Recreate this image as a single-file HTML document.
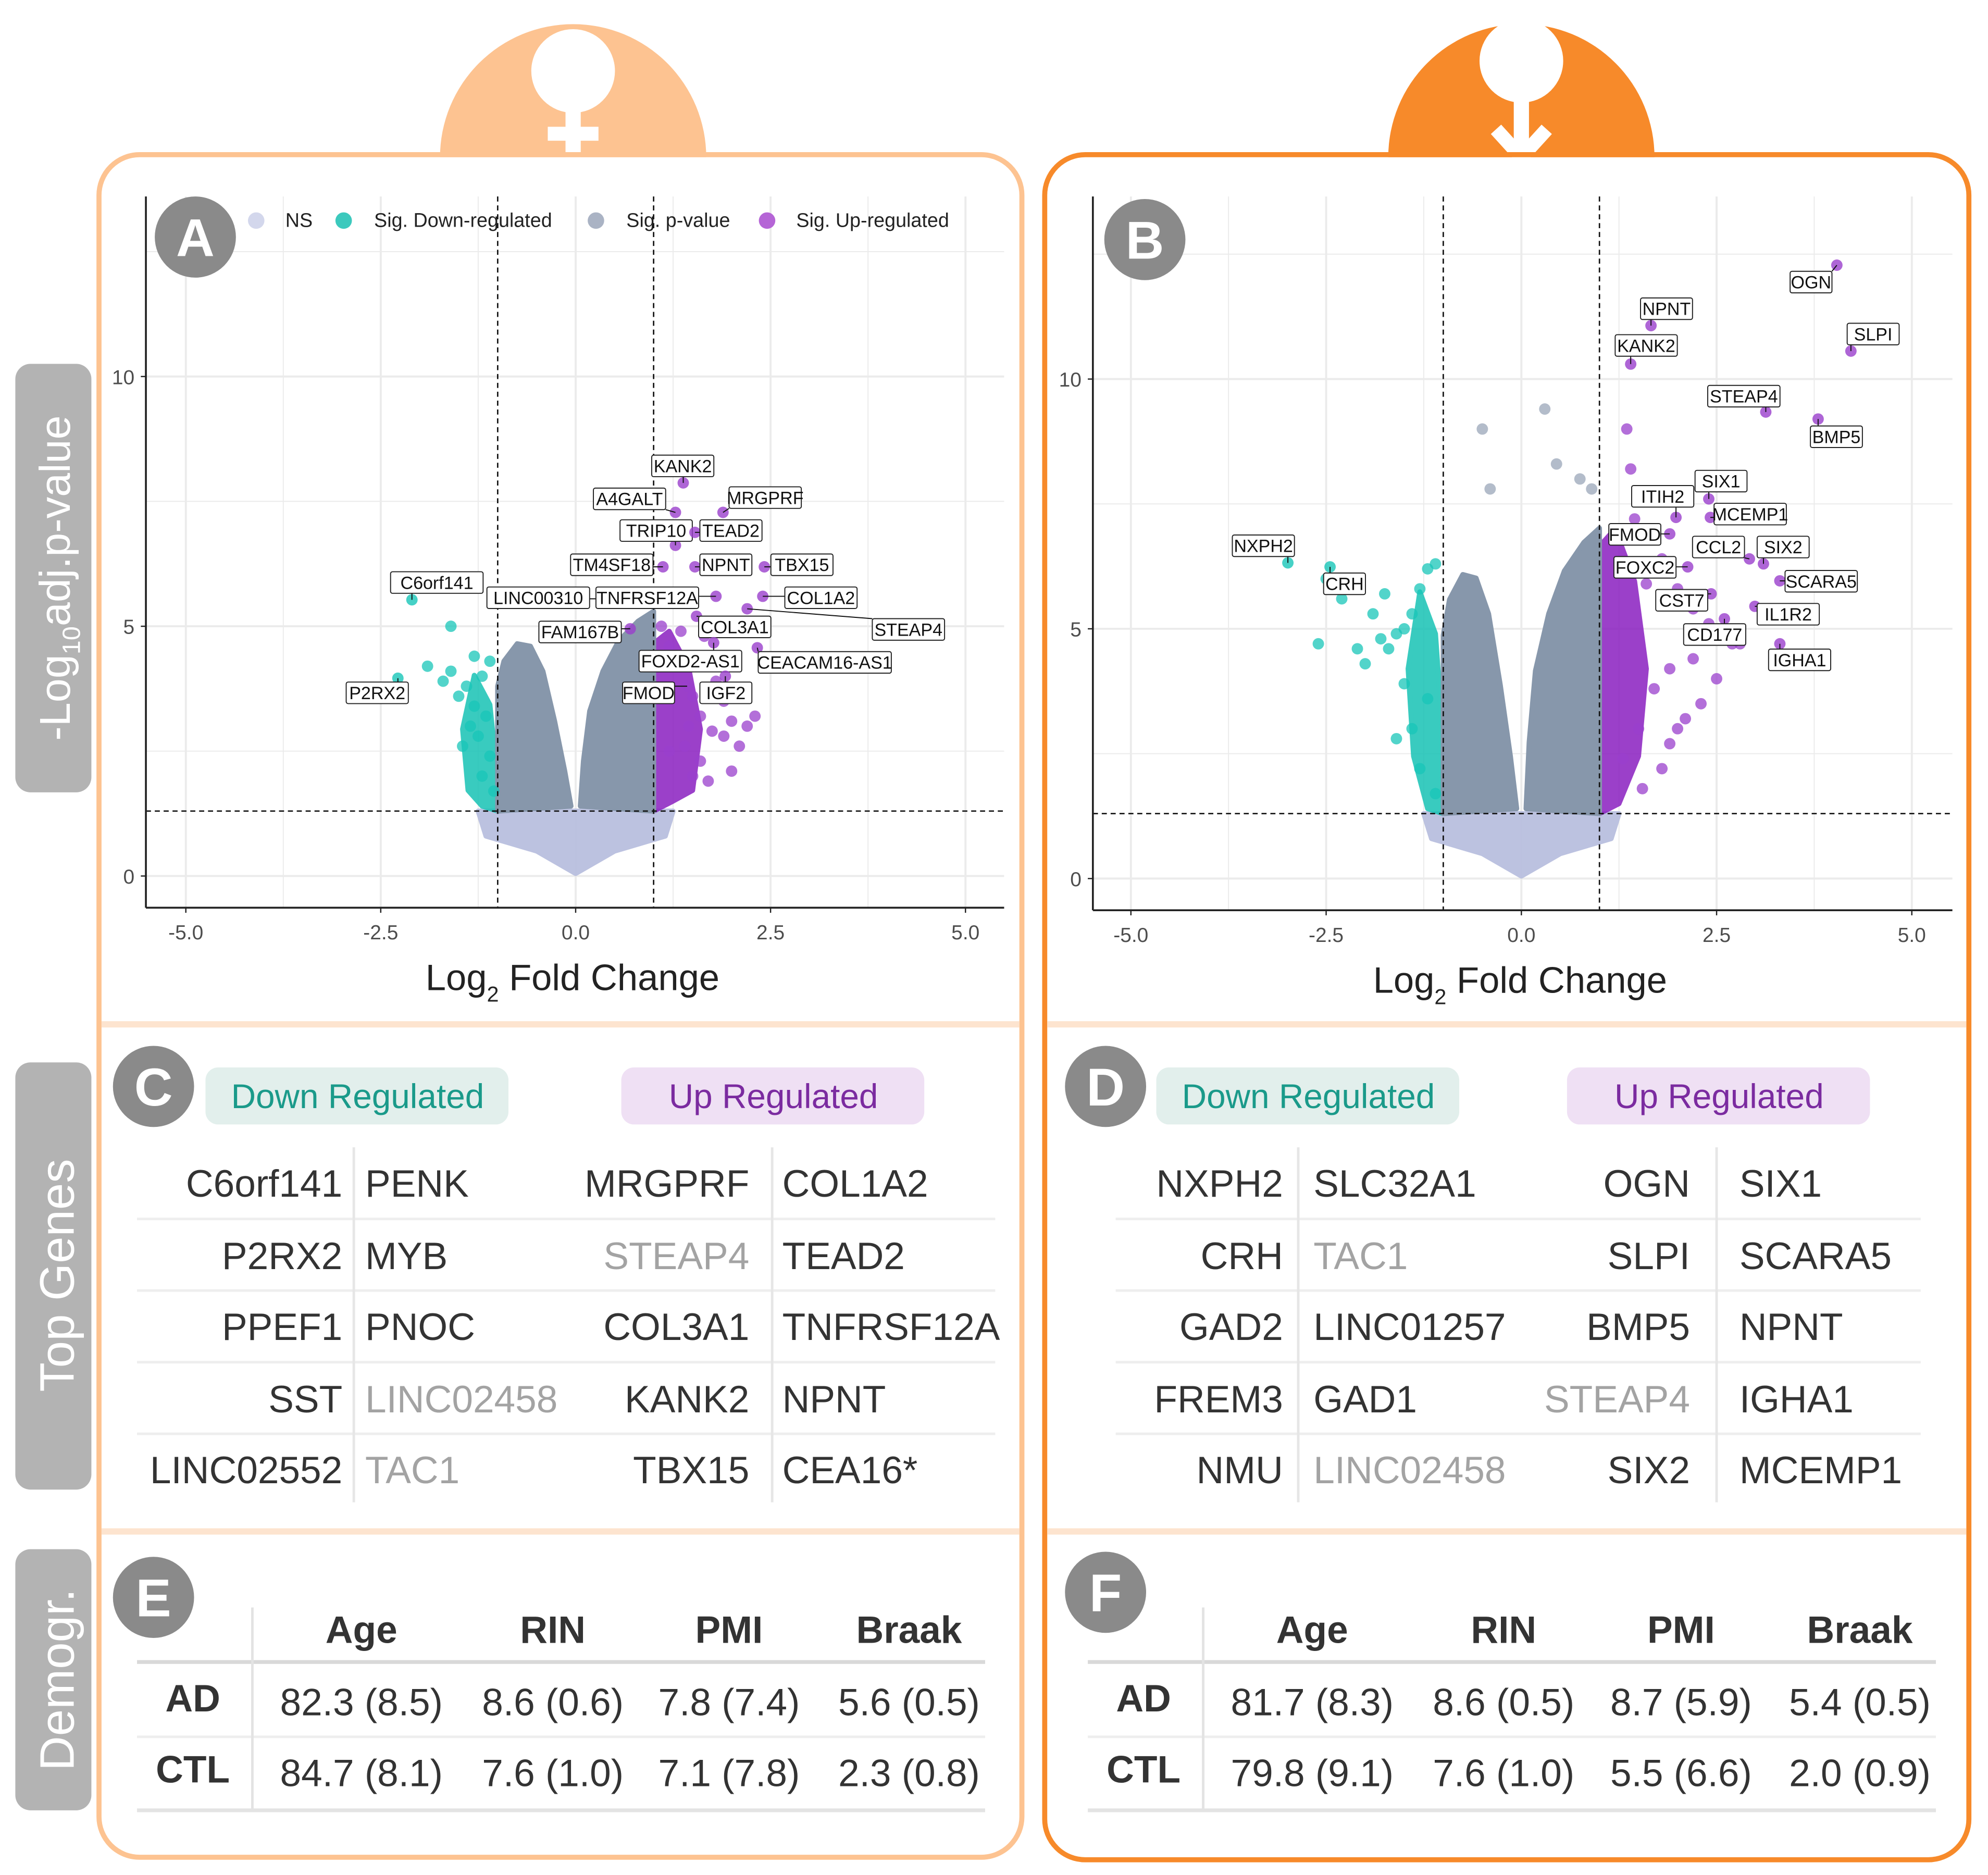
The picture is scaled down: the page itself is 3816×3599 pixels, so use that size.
<!DOCTYPE html>
<html><head><meta charset="utf-8">
<style>
html,body{margin:0;padding:0;background:#fff;}
svg{display:block;}
text{font-family:"Liberation Sans",sans-serif;}
</style></head>
<body>
<svg id="fig" xmlns="http://www.w3.org/2000/svg" width="3816" height="3599" viewBox="0 0 1568 1479">
<rect width="1568" height="1479" fill="#fff"/>
<g>
<path d="M347,124 A105,105 0 0 1 557,124 Z" fill="#fdc391"/>
<circle cx="452" cy="56" r="33" fill="#fff"/>
<rect x="446" y="86" width="12" height="38" fill="#fff"/>
<rect x="432" y="100" width="40" height="11" fill="#fff"/>
</g>
<g>
<path d="M1095,124 A105,105 0 0 1 1305,124 Z" fill="#f78a2a"/>
<circle cx="1200" cy="48" r="33" fill="#fff"/>
<rect x="1194" y="78" width="12" height="40" fill="#fff"/>
<path d="M1180,102 L1200,124 L1220,102" stroke="#fff" stroke-width="11" fill="none"/>
</g>
<rect x="78" y="122" width="728" height="1343" rx="32" fill="none" stroke="#fdc391" stroke-width="4"/>
<rect x="824" y="122" width="729" height="1345" rx="32" fill="none" stroke="#f78a2a" stroke-width="4"/>
<g stroke="#fde4cf" stroke-width="5">
<line x1="80" y1="808" x2="804" y2="808"/><line x1="80" y1="1208" x2="804" y2="1208"/>
<line x1="826" y1="808" x2="1551" y2="808"/><line x1="826" y1="1208" x2="1551" y2="1208"/>
</g>
<g><rect x="12" y="287" width="60" height="338" rx="12" fill="#b3b3b3"/><text transform="translate(55,456) rotate(-90)" text-anchor="middle" font-size="34" fill="#fff">-Log<tspan font-size="20" dy="8">10</tspan><tspan dy="-8">adj.p-value</tspan></text></g>
<g><rect x="12" y="838" width="60" height="337" rx="12" fill="#b3b3b3"/><text transform="translate(58,1006) rotate(-90)" text-anchor="middle" font-size="38" fill="#fff">Top Genes</text></g>
<g><rect x="12" y="1222" width="60" height="206" rx="12" fill="#b3b3b3"/><text transform="translate(58,1325) rotate(-90)" text-anchor="middle" font-size="38" fill="#fff">Demogr.</text></g>
<g id="plots"></g>
<g id="tables"></g>
</svg>
<script>
// ---------- DATA ----------
const xTicks = [-5.0, -2.5, 0.0, 2.5, 5.0];
const yTicks = [0, 5, 10];
const pThresh = 1.3;
const fcThresh = 1;
const genesA = ["KANK2","A4GALT","MRGPRF","TRIP10","TEAD2","TM4SF18","NPNT","TBX15","LINC00310","TNFRSF12A","COL1A2","COL3A1","STEAP4","FAM167B","FOXD2-AS1","CEACAM16-AS1","FMOD","IGF2","C6orf141","P2RX2"];
const fcA = [1.38,1.28,1.89,1.28,1.53,1.12,1.53,2.42,0.95,1.80,2.40,1.55,2.20,0.70,1.77,2.33,1.43,1.92,-2.10,-2.28];
const pA  = [7.87,7.28,7.28,6.62,6.88,6.19,6.19,6.19,5.55,5.60,5.60,5.20,5.35,4.95,4.67,4.57,3.80,4.00,5.53,3.96];
const genesB = ["OGN","SLPI","NPNT","KANK2","STEAP4","BMP5","SIX1","MCEMP1","ITIH2","FMOD","CCL2","SIX2","FOXC2","SCARA5","CST7","IL1R2","CD177","IGHA1","NXPH2","CRH"];
const fcB = [4.04,4.22,1.66,1.40,3.13,3.80,2.40,2.42,1.98,1.90,2.92,3.10,2.13,3.31,2.43,2.99,2.60,3.31,-2.99,-2.45];
const pB  = [12.28,10.56,11.07,10.30,9.34,9.20,7.60,7.23,7.23,6.90,6.40,6.30,6.24,5.96,5.70,5.45,5.20,4.70,6.32,6.24];
const upA_fc = [1.1,1.2,1.3,1.5,1.6,1.7,1.8,1.9,2.0,2.2,2.3,1.4,1.6,1.9,2.1,1.7,1.5,1.2,1.35,1.65,1.85,2.0,1.45,1.75];
const upA_p  = [5.0,4.6,4.2,3.6,3.2,4.3,3.9,3.5,3.1,3.0,3.2,2.6,2.3,2.8,2.6,1.9,2.0,2.5,4.9,4.8,4.2,2.1,3.0,2.9];
const downA_fc = [-1.1,-1.2,-1.3,-1.4,-1.5,-1.6,-1.7,-1.15,-1.25,-1.35,-1.1,-1.2,-1.45,-1.9,-1.6,-1.3,-1.05];
const downA_p  = [4.3,4.0,4.4,3.8,3.6,4.1,3.9,3.2,2.8,3.0,2.4,2.0,2.6,4.2,5.0,3.4,1.7];
const upB_fc = [1.4,1.5,1.6,1.8,2.0,2.2,2.4,2.6,2.8,2.2,1.9,1.7,2.5,2.3,2.1,1.5,1.3,1.9,2.7,1.6,1.45,2.0,1.8,1.55,2.3,1.35];
const upB_p  = [8.2,7.6,6.8,6.4,5.8,5.4,5.1,5.0,4.7,4.4,4.2,3.8,4.0,3.5,3.2,3.0,2.4,2.7,4.7,5.9,7.2,3.0,2.2,1.8,5.6,9.0];
const downB_fc = [-1.1,-1.2,-1.3,-1.4,-1.5,-1.6,-1.7,-1.8,-1.9,-2.1,-2.3,-2.5,-2.6,-1.2,-1.4,-1.6,-1.3,-1.5,-1.1,-2.0,-1.75];
const downB_p  = [6.3,6.2,5.8,5.3,5.0,4.9,4.6,4.8,5.3,4.6,5.6,6.0,4.7,3.6,3.0,2.8,2.2,3.9,1.7,4.3,5.7];
const nsB_fc = [-0.5,-0.4,0.3,0.45,0.75,0.9];
const nsB_p  = [9.0,7.8,9.4,8.3,8.0,7.8];

const NS="http://www.w3.org/2000/svg";
function mk(tag, attrs, parent){const e=document.createElementNS(NS,tag);for(const k in attrs)e.setAttribute(k,attrs[k]);parent.appendChild(e);return e;}

function volcano(cfg){
  const g=mk('g',{},document.getElementById('plots'));
  
  
  const X=v=>cfg.x0+v*cfg.sx, Y=v=>cfg.y0-v*cfg.sy;
  for(let v=-5;v<=5.01;v+=1.25){mk('line',{x1:X(v),x2:X(v),y1:cfg.top,y2:cfg.bottom,stroke:'#ebebeb','stroke-width':(Math.abs(v/2.5-Math.round(v/2.5))<0.01)?1.6:0.8},g);}
  for(let v=0;v<=12.6;v+=2.5){mk('line',{x1:cfg.left,x2:cfg.right,y1:Y(v),y2:Y(v),stroke:'#ebebeb','stroke-width':(v%5===0)?1.6:0.8},g);}
  const poly=(pts,fill,op)=>mk('polygon',{points:pts.map(p=>X(p[0])+','+Y(p[1])).join(' '),fill:fill,opacity:op,'stroke':fill,'stroke-width':4,'stroke-linejoin':'round'},g);
  const h=cfg.h;
  poly([[-1.25,pThresh],[-1.15,0.8],[-0.5,0.5],[0,0.05],[0.5,0.5],[1.15,0.8],[1.25,pThresh]], '#b9bfdf',0.95);
  poly([[-1,pThresh],[-1.02,h*0.45],[-1.1,h*0.7],[-1.3,h*0.82],[-1.45,h*0.6],[-1.38,h*0.35],[-1.2,pThresh+0.1]],'#17c2b5',0.85);
  poly([[1,pThresh],[1,h*0.95],[1.2,h],[1.45,h*0.85],[1.6,h*0.6],[1.5,h*0.35],[1.25,pThresh+0.2]],'#8a1fc0',0.85);
  const f=h/4.9;
  poly([[-1,pThresh],[-1,1.3+2.5*f],[-0.92,1.3+3.0*f],[-0.75,1.3+3.35*f],[-0.58,1.3+3.3*f],[-0.42,1.3+2.8*f],[-0.27,1.3+1.8*f],[-0.14,1.3+0.8*f],[-0.06,pThresh+0.1]],'#8797ab',1);
  poly([[0.06,pThresh+0.1],[0.1,1.3+1.0*f],[0.18,1.3+2.0*f],[0.35,1.3+2.8*f],[0.55,1.3+3.4*f],[0.8,1.3+3.8*f],[1,1.3+4.0*f],[1,pThresh]],'#8797ab',1);
  const dot=(fx,py,c,nm)=>{const d=mk('circle',{cx:X(fx),cy:Y(py),r:4.5,fill:c,opacity:0.75},g);};
  cfg.up[0].forEach((v,i)=>dot(v,cfg.up[1][i],'#9a3fcc','up-point'));
  cfg.down[0].forEach((v,i)=>dot(v,cfg.down[1][i],'#18c6b8','down-point'));
  if(cfg.ns) cfg.ns[0].forEach((v,i)=>dot(v,cfg.ns[1][i],'#99a5b8','ns-point'));
  [-fcThresh,fcThresh].forEach(v=>mk('line',{x1:X(v),x2:X(v),y1:cfg.top,y2:cfg.bottom,stroke:'#111','stroke-width':1.1,'stroke-dasharray':'4,3'},g));
  mk('line',{x1:cfg.left,x2:cfg.right,y1:Y(pThresh),y2:Y(pThresh),stroke:'#111','stroke-width':1.1,'stroke-dasharray':'4,3'},g);
  cfg.genes.forEach((name,i)=>{
    const px=X(cfg.fc[i]),py=Y(cfg.p[i]);
    const L=cfg.lab[i];
    const w=name.length*8.0+9;
    const c=cfg.fc[i]<0?'#18c6b8':'#9a3fcc';
    const dd=mk('circle',{cx:px,cy:py,r:4.5,fill:c,opacity:0.8},g);
    
    
    const cx=Math.max(L[0],Math.min(L[0]+w,px)), cy=Math.max(L[1],Math.min(L[1]+17,py));
    mk('line',{x1:px,y1:py,x2:cx,y2:cy,stroke:'#111','stroke-width':0.8},g);
    const r=mk('rect',{x:L[0],y:L[1],width:w,height:17,fill:'#fff',stroke:'#222','stroke-width':0.8,rx:1.5},g);
    
    
    const t=mk('text',{x:L[0]+w/2,y:L[1]+13.5,'text-anchor':'middle','font-size':14,fill:'#111'},g);
    t.textContent=name;
    
    
  });
  mk('line',{x1:cfg.left,x2:cfg.left,y1:cfg.top,y2:cfg.bottom,stroke:'#222','stroke-width':1.5},g);
  mk('line',{x1:cfg.left,x2:cfg.right,y1:cfg.bottom,y2:cfg.bottom,stroke:'#222','stroke-width':1.5},g);
  xTicks.forEach(v=>{mk('line',{x1:X(v),x2:X(v),y1:cfg.bottom,y2:cfg.bottom+4,stroke:'#222'},g);
    const t=mk('text',{x:X(v),y:cfg.bottom+25,'text-anchor':'middle','font-size':16,fill:'#4d4d4d'},g);t.textContent=v.toFixed(1);
    
    });
  yTicks.forEach(v=>{mk('line',{x1:cfg.left-4,x2:cfg.left,y1:Y(v),y2:Y(v),stroke:'#222'},g);
    const t=mk('text',{x:cfg.left-9,y:Y(v)+6,'text-anchor':'end','font-size':16,fill:'#4d4d4d'},g);t.textContent=v;
    
    });
  const xt=mk('text',{x:(cfg.left+cfg.right)/2-2,y:cfg.bottom+65,'text-anchor':'middle','font-size':29,fill:'#222'},g);
  xt.innerHTML='Log<tspan font-size="17" dy="9">2</tspan><tspan dy="-9"> Fold Change</tspan>';
  
  
  mk('circle',{cx:cfg.badge[0],cy:cfg.badge[1],r:32,fill:'#8a8a8a'},g);
  const bt=mk('text',{x:cfg.badge[0],y:cfg.badge[1]+15,'text-anchor':'middle','font-size':42,'font-weight':'bold',fill:'#fff'},g);bt.textContent=cfg.letter;
  
  
  return g;
}

volcano({name:'volcano-plot-a',letter:'A',badge:[154,187],x0:454,sx:61.5,y0:691,sy:39.4,left:115,right:792,top:155,bottom:716,h:4.9,
  genes:genesA,fc:fcA,p:pA,up:[upA_fc,upA_p],down:[downA_fc,downA_p],
  lab:[[514,359],[468,385],[575,384],[489,410],[552,410],[450,437],[552,437],[608,437],[384,463],[470,463],[619,463],[551,486],[688,488],[425,490],[504,513],[598,514],[491,538],[552,538],[308,451],[273,538]]});
volcano({name:'volcano-plot-b',letter:'B',badge:[903,189],x0:1200,sx:61.6,y0:693,sy:39.4,left:862,right:1540,top:155,bottom:718,h:7.0,
  genes:genesB,fc:fcB,p:pB,up:[upB_fc,upB_p],down:[downB_fc,downB_p],ns:[nsB_fc,nsB_p],
  lab:[[1412,214],[1457,255],[1294,235],[1274,264],[1347,304],[1428,336],[1337,371],[1352,397],[1287,383],[1269,413],[1335,423],[1386,423],[1273,439],[1408,450],[1306,465],[1386,476],[1328,492],[1395,512],[972,422],[1044,452]]});

(function(){
  const g=mk('g',{},document.getElementById('plots'));
  
  
  [[202,'#d3d7ec','NS',225],[271,'#3cc9bd','Sig. Down-regulated',295],[470,'#aab3c4','Sig. p-value',494],[605,'#b565d6','Sig. Up-regulated',628]].forEach(e=>{
    mk('circle',{cx:e[0],cy:174,r:6.5,fill:e[1]},g);
    const t=mk('text',{x:e[3],y:179,'font-size':15.5,fill:'#222'},g);t.textContent=e[2];
    
    
  });
})();

const rowsY=[933,990,1046,1103,1159];
const C_down1=["C6orf141","P2RX2","PPEF1","SST","LINC02552"], C_down2=["PENK","MYB","PNOC","LINC02458","TAC1"];
const C_up1=["MRGPRF","STEAP4","COL3A1","KANK2","TBX15"], C_up2=["COL1A2","TEAD2","TNFRSF12A","NPNT","CEA16*"];
const C_grey=["LINC02458","TAC1","STEAP4"];
const D_down1=["NXPH2","CRH","GAD2","FREM3","NMU"], D_down2=["SLC32A1","TAC1","LINC01257","GAD1","LINC02458"];
const D_up1=["OGN","SLPI","BMP5","STEAP4","SIX2"], D_up2=["SIX1","SCARA5","NPNT","IGHA1","MCEMP1"];
function geneTable(o){
  const g=mk('g',{},document.getElementById('tables'));
  
  
  mk('circle',{cx:o.badge[0],cy:o.badge[1],r:32,fill:'#8a8a8a'},g);
  const bt=mk('text',{x:o.badge[0],y:o.badge[1]+15,'text-anchor':'middle','font-size':42,'font-weight':'bold',fill:'#fff'},g);bt.textContent=o.letter;
  mk('rect',{x:o.pill1,y:842,width:239,height:45,rx:10,fill:'#e2efec'},g);
  const p1=mk('text',{x:o.pill1+120,y:874,'text-anchor':'middle','font-size':27,fill:'#1a9a8a'},g);p1.textContent='Down Regulated';
  
  
  mk('rect',{x:o.pill2,y:842,width:239,height:45,rx:10,fill:'#efe0f4'},g);
  const p2=mk('text',{x:o.pill2+120,y:874,'text-anchor':'middle','font-size':27,fill:'#7b2ba0'},g);p2.textContent='Up Regulated';
  
  
  [0,1,2,3].forEach(i=>mk('line',{x1:o.l,x2:o.r,y1:(rowsY[i]+rowsY[i+1])/2,y2:(rowsY[i]+rowsY[i+1])/2,stroke:'#eeeeee','stroke-width':2},g));
  o.div.forEach(x=>mk('line',{x1:x,x2:x,y1:905,y2:1185,stroke:'#e6e6e6','stroke-width':2},g));
  const cols=[[o.d1,o.c[0],'end'],[o.d2,o.c[1],'start'],[o.u1,o.c[2],'end'],[o.u2,o.c[3],'start']];
  cols.forEach(col=>col[0].forEach((name,i)=>{
    const grey=o.grey(name,col);
    const t=mk('text',{x:col[1],y:rowsY[i]+11,'text-anchor':col[2],'font-size':30,fill:grey?'#a3a3a3':'#333'},g);
    t.textContent=name;
    
    
  }));
}
geneTable({name:'top-genes-table-c',letter:'C',badge:[121,857],pill1:162,pill2:490,l:108,r:785,div:[279,609],c:[270,288,591,617],
  d1:C_down1,d2:C_down2,u1:C_up1,u2:C_up2,grey:(n)=>C_grey.includes(n)});
geneTable({name:'top-genes-table-d',letter:'D',badge:[872,857],pill1:912,pill2:1236,l:880,r:1515,div:[1024,1354],c:[1012,1036,1333,1372],
  d1:D_down1,d2:D_down2,u1:D_up1,u2:D_up2,grey:(n)=>["TAC1","LINC02458","STEAP4"].includes(n)});

const demoHead=["Age","RIN","PMI","Braak"];
const E_AD=["82.3 (8.5)","8.6 (0.6)","7.8 (7.4)","5.6 (0.5)"], E_CTL=["84.7 (8.1)","7.6 (1.0)","7.1 (7.8)","2.3 (0.8)"];
const F_AD=["81.7 (8.3)","8.6 (0.5)","8.7 (5.9)","5.4 (0.5)"], F_CTL=["79.8 (9.1)","7.6 (1.0)","5.5 (6.6)","2.0 (0.9)"];
function demo(o){
  const g=mk('g',{},document.getElementById('tables'));
  
  
  mk('circle',{cx:o.badge[0],cy:o.badge[1],r:32,fill:'#8a8a8a'},g);
  const bt=mk('text',{x:o.badge[0],y:o.badge[1]+15,'text-anchor':'middle','font-size':42,'font-weight':'bold',fill:'#fff'},g);bt.textContent=o.letter;
  mk('line',{x1:o.l,x2:o.r,y1:1311,y2:1311,stroke:'#d9d9d9','stroke-width':3},g);
  mk('line',{x1:o.l,x2:o.r,y1:1370,y2:1370,stroke:'#eeeeee','stroke-width':2},g);
  mk('line',{x1:o.l,x2:o.r,y1:1428,y2:1428,stroke:'#e3e3e3','stroke-width':3},g);
  mk('line',{x1:o.vx,x2:o.vx,y1:1268,y2:1428,stroke:'#e3e3e3','stroke-width':2},g);
  demoHead.forEach((h,i)=>{const t=mk('text',{x:o.c[i],y:1296,'text-anchor':'middle','font-size':30,'font-weight':'bold',fill:'#333'},g);t.textContent=h;
    
    });
  [['AD',o.ad,1340],['CTL',o.ctl,1396]].forEach(r=>{
    const t=mk('text',{x:o.lab,y:r[2]+10,'text-anchor':'middle','font-size':30,'font-weight':'bold',fill:'#333'},g);t.textContent=r[0];
    
    
    r[1].forEach((v,i)=>{const c=mk('text',{x:o.c[i],y:r[2]+13,'text-anchor':'middle','font-size':30,fill:'#333'},g);c.textContent=v;
      
      });
  });
}
demo({name:'demographics-table-e',letter:'E',badge:[121,1260],l:108,r:777,vx:199,lab:152,c:[285,436,575,717],ad:E_AD,ctl:E_CTL});
demo({name:'demographics-table-f',letter:'F',badge:[872,1256],l:858,r:1527,vx:949,lab:902,c:[1035,1186,1326,1467],ad:F_AD,ctl:F_CTL});
</script>
</body></html>
